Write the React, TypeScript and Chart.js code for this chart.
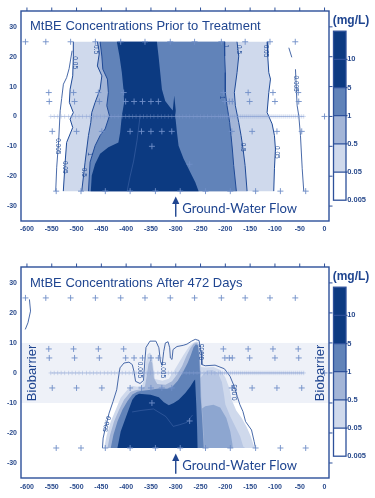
import React, { useEffect, useRef } from 'react';
import { Chart, registerables } from 'chart.js';

Chart.register(...registerables);

type Pt = [number, number];

// ---------------- axes ----------------
const xTickValues = [-600, -550, -500, -450, -400, -350, -300, -250, -200, -150, -100, -50, 0];
const yTickValues = [-30, -20, -10, 0, 10, 20, 30];
const xRange: Pt = [-612, 9];
const yRange: Pt = [-35, 35.3];

// ---------------- legend / texts ----------------
const colorbarLevels = ['10', '5', '1', '0.5', '0.05', '0.005'];
const unitLabel = '(mg/L)';
const titlePrior = 'MtBE Concentrations Prior to Treatment';
const titleAfter = 'MtBE Concentrations After 472 Days';
const flowLabel = 'Ground-Water Flow';
const barrierLabel = 'Biobarrier';

// annotation anchors (data units)
const flowArrowX = -300;
const flowArrowY: Pt = [-33.6, -26.8];
const flowTextAt: Pt = [-287, -32.3];
const barrierY: Pt = [-10, 10];
const barrierLabelX = [-582, -2];
const plumeBase = -25;
const plumeTop = 25;

// ---------------- monitoring wells ----------------
const wellsRow25X = [-603, -562, -512, -462, -411, -362, -311, -262, -208, -160, -110, -59];
const wellsRowM25X = [-541, -491, -442, -392, -341, -291, -240, -190, -139, -89, -38];
const wellsRow8X = [-556, -506, -456, -405, -204, -154, -104, -53];
const wellsRow5X = [-555, -504, -454, -401, -384, -367, -350, -335, -201, -192, -186, -151, -100, -52];
const wellsRowM5X = [-549, -500, -449, -392, -369, -350, -328, -308, -187, -146, -96, -46];
const wellsOtherX = [-348, -272, 0];
const wellsOtherY = [-10, -16, 0];
const transectX = [
  -552, -545, -538, -531, -524, -516, -509, -502, -495, -488, -480, -473, -466, -459, -452, -444,
  -437, -430, -423, -416, -408, -401, -394, -387, -380, -372, -365, -358, -351, -344, -336, -329,
  -322, -315, -308, -300, -293, -286, -279, -272, -264, -257, -250, -243, -236, -228, -221, -214,
  -210, -206, -202, -198, -194, -190, -186, -182, -178, -174, -170, -166, -162, -158, -154, -150,
  -146, -142, -138, -134, -130, -126, -122, -118, -114, -110, -106, -102, -98, -94, -90, -86,
  -82, -78, -74, -70, -66, -62, -58, -54, -50, -46, -42,
];

// ---------------- prior to treatment: contour regions ----------------
const prior005: Pt[] = [
  [-526.7, -25], [-523, -15.3], [-520, -8.7], [-507.7, -3.7], [-513, -0.9], [-506.5, 1.3], [-514.5, 4.7],
  [-513, 9.1], [-507.7, 13.6], [-506.5, 20.2], [-506.5, 25],
  [-115.8, 25], [-114.5, 20.2], [-112.4, 14.7], [-109, 12.5], [-112.4, 8], [-115.8, 1.3], [-105.7, -2.5],
  [-101, -6.4], [-99, -10.9], [-101, -17.5], [-102.4, -25],
];
const prior05: Pt[] = [
  [-489.5, -25], [-482.8, -15.3], [-476, -6.4], [-471.3, -2], [-469.3, 1.3], [-462.6, 4.7], [-452.5, 9.1],
  [-449, 13.6], [-458, 16.9], [-454, 21.3], [-458, 25],
  [-176.4, 25], [-173, 20.2], [-176.4, 14.7], [-181.8, 8], [-179.8, 3.6], [-173, -2], [-168.3, -6.4],
  [-164.3, -10.9], [-160.2, -16.4], [-156.2, -25],
];
const prior1: Pt[] = [
  [-476, -25], [-472.7, -15.3], [-462.6, -9.8], [-452.5, -6.4], [-442.4, -4.2], [-433.7, 0.2], [-439, 3.6],
  [-435.8, 8], [-437.8, 12.5], [-447, 15.8], [-449, 20.2], [-452.5, 25],
  [-202, 25], [-201.4, 20.2], [-200, 14.7], [-200, 8], [-196.6, 3.6], [-191.3, -2], [-188.5, -6.4],
  [-185.9, -10.9], [-183.2, -16.4], [-177.8, -25],
];
const prior5: Pt[] = [
  [-471.3, -25], [-469.3, -19.8], [-462.6, -15.9], [-452.5, -12.5], [-435.8, -10.3], [-415.6, -8.7],
  [-412, -5.3], [-408.7, 0.2], [-404, 4.7], [-405.4, 9.1], [-408.7, 14.7], [-413.5, 20.2], [-418.8, 25],
  [-338, 25], [-334.7, 20.2], [-331.3, 14.7], [-327.9, 9.1], [-321.2, 5.2], [-311.1, 3], [-306, 2],
  [-303, 7], [-300, 2], [-301, 0.2], [-297.6, -5.3], [-294.3, -9.8], [-284.2, -14.2], [-270.7, -18.7],
  [-260.6, -22], [-253.9, -25],
];
const prior0005Left: Pt[] = [[-509, 22], [-515, 16], [-520, 13], [-526.5, 10.8], [-530, 6], [-533, 1.9], [-536, -8], [-540, -17], [-542, -25]];
const prior0005Right: Pt[] = [[-58.6, 15.8], [-56.6, 8], [-55.2, 3.6], [-51.9, 0.2], [-48.5, -6.4], [-45, -17.5], [-41.9, -25]];
const prior0005Stub: Pt[] = [[-72, 23], [-66, 19.8]];
const prior10: Pt[] = [[-372, 0], [-378, -8], [-385, -15], [-392, -20], [-398, -25]];

// ---------------- after 472 days: contour regions ----------------
const after005: Pt[] = [
  [-444.4, -25], [-439, -20.6], [-431, -16.2], [-421, -12.3], [-411, -8.3], [-397.5, -5.6], [-388, -4.3],
  [-378, -4.6], [-368, -4.2], [-363.5, -2], [-361, 2.5], [-357, 6.2], [-352, 6.8], [-347.5, 5.5], [-345, 2],
  [-342, -2], [-327, -2.6], [-314, -1.9], [-304, 0.6], [-294, 3.3], [-284, 6.1], [-274, 8.6], [-265.3, 10],
  [-259, 10.5], [-254, 10.2], [-251.3, 6], [-249, 2], [-240, 1.8], [-224, 2], [-210, 1], [-200, -1.5],
  [-192, -5], [-187, -9], [-178, -12.5], [-167, -15], [-157, -18], [-149, -21], [-142, -24.5], [-140.3, -25],
];
const afterLobe05: Pt[] = [
  [-255, -25], [-252, -2], [-238, 0.8], [-226, 1], [-215, 0], [-207, -3], [-203, -7], [-200, -10.5],
  [-190, -14.5], [-180, -17.8], [-170, -21.2], [-164, -24.5], [-160, -25],
];
const afterLobe1: Pt[] = [
  [-252, -25], [-250.5, -12.3], [-240.5, -11.1], [-224, -10.6], [-210.4, -11.5], [-198, -15], [-190, -19.5],
  [-186, -23.4], [-185, -25],
];
const after05: Pt[] = [
  [-437.6, -25], [-432.3, -20.6], [-424.4, -16.2], [-414.3, -12.3], [-404.3, -8.9], [-391, -6.3], [-381, -5.8],
  [-370, -5.4], [-362, -4.4], [-358.5, -1], [-355, 3], [-351, 4.5], [-347.5, 3.3], [-344, -1.7], [-337.4, -3.7],
  [-320.7, -3.9], [-307.4, -2.8], [-297.4, -0.5], [-287.3, 2.2], [-278.7, 5.6], [-270.6, 8.2], [-264, 9.7],
  [-258, 10.1], [-253.8, 9.6], [-251.5, 5], [-250, 0], [-248.5, -8], [-245.5, -15], [-242, -25],
];
const after1: Pt[] = [
  [-431, -25], [-425.6, -20.6], [-417.5, -16.2], [-407.5, -12.3], [-397.5, -9.4], [-387.5, -7.2], [-377.5, -6.3],
  [-370.8, -6], [-350.8, -5.6], [-334, -5.2], [-317.4, -5.3], [-307.4, -4.7], [-296, -2.6], [-285.3, 0.3],
  [-276, 3.3], [-269.3, 6.1], [-264, 8.6], [-259.3, 9.6], [-255.5, 9.2], [-253, 6], [-251.2, 0], [-249.8, -8],
  [-246.8, -15], [-243.5, -25],
];
const after5: Pt[] = [
  [-417.6, -25], [-411, -19.5], [-397.6, -13.4], [-387.5, -8.9], [-380.9, -7.5], [-374, -6.9], [-350.8, -7.3],
  [-334.1, -8.1], [-324, -9.8], [-314, -10.8], [-304, -10], [-294, -8.9], [-280.7, -6.7], [-270.6, -4.5],
  [-264, -2.8], [-261, -2.2], [-258.6, -10.6], [-257, -18], [-256, -25],
];
const after0005: Pt[] = [
  [-447.8, -25], [-446.4, -21.7], [-441.1, -17.8], [-434.4, -13.4], [-426.4, -9.5], [-419, -5.6], [-415.7, -1.7],
  [-412.4, 1.7], [-404.4, 3.3], [-394.3, 3.6], [-387.7, 2.8], [-384.3, 0.6], [-381, -2.8], [-372, -3.5],
  [-365, -2.5], [-362.3, 4], [-360, 8.5], [-352, 10.6], [-340, 10.6], [-334, 8.4], [-331, 3.9], [-327.5, 2.5],
  [-324.2, 7.2], [-320.9, 10], [-315.5, 10.4], [-312.2, 8.4], [-310.8, 5], [-307.5, 4.5], [-305.5, 7.8],
  [-297.5, 8.8], [-285, 9.2], [-277.4, 9.6], [-268, 10.6], [-260.7, 11.2], [-253, 10.8], [-249, 7],
  [-247.4, 2.8], [-240.7, 2.4], [-220.7, 2.6], [-202, 1.4], [-190.6, -1.1], [-182, -4.5], [-176, -7.8],
  [-170.6, -10.6], [-164.6, -12.8], [-159.2, -16.2], [-147.2, -19], [-141.8, -22.9], [-139.2, -25],
];
const after0005Corner: Pt[] = [[-595, 24.5], [-592.8, 20.6], [-598, 16.7], [-603.4, 14.5]];
const after10: Pt[] = [[-388, -13], [-370, -12.5], [-345, -12], [-320, -14.5], [-305, -17.8], [-293, -17.3], [-278, -16.5], [-266, -14]];

type Label = { t: string; x: number; y: number; r: number };
const priorLabels: Label[] = [
  { t: '0.05', x: -503, y: 18, r: 90 },
  { t: '0.5', x: -461, y: 22.4, r: 90 },
  { t: '0.005', x: -537, y: -10, r: 90 },
  { t: '0.05', x: -523, y: -17, r: 90 },
  { t: '0.5', x: -486, y: -18.7, r: 90 },
  { t: '1', x: -474, y: -12.6, r: 90 },
  { t: '1', x: -200, y: 23.6, r: 90 },
  { t: '0.5', x: -172, y: 22.4, r: 90 },
  { t: '0.05', x: -118, y: 21.9, r: 90 },
  { t: '0.005', x: -58, y: 11, r: 90 },
  { t: '0.5', x: -164, y: -10.3, r: 90 },
  { t: '0.05', x: -97, y: -12, r: 90 },
  { t: '1', x: -208, y: 6.3, r: 90 },
];
const afterLabels: Label[] = [
  { t: '0.005', x: -373, y: 1, r: 90 },
  { t: '0.005', x: -326, y: 1, r: 90 },
  { t: '0.005', x: -246, y: 7, r: -90 },
  { t: '0.005', x: -180, y: -6.5, r: -90 },
  { t: '0.005', x: -440, y: -17, r: 105 },
];

// ---------------- styles ----------------
const COL = {
  light: '#cfd9ec',
  mid: '#a3b5d7',
  med: '#6183b9',
  dark: '#0c3a81',
  lobeMid: '#b7c6e3',
  lobeIn: '#8da6d0',
  line: '#1f4a97',
  text: '#1f4590',
  frame: '#2d509a',
  tick: '#2a4b8d',
};
const colorbarColors = [COL.dark, COL.dark, COL.med, COL.mid, COL.light, '#ffffff'];
const FONT = '"Liberation Sans", Arial, sans-serif';

interface Panel {
  title: string;
  areas: { pts: Pt[]; color: string }[];
  outlines: Pt[][];
  thin: Pt[][];
  faint: Pt[][];
  labels: Label[];
  band: boolean;
  padTop: number;
  xAxisH: number;
  tickPad: number;
  titleDy: number;
}

function sides(p: Pt[]): Pt[][] {
  const i = p.findIndex((q) => q[1] === plumeTop);
  return [p.slice(0, i + 1), p.slice(i + 1)];
}

const priorPanel: Panel = {
  title: titlePrior,
  areas: [
    { pts: prior005, color: COL.light },
    { pts: prior05, color: COL.mid },
    { pts: prior1, color: COL.med },
    { pts: prior5, color: COL.dark },
  ],
  outlines: [...sides(prior005), ...sides(prior05), ...sides(prior1)],
  thin: [prior0005Left, prior0005Right, prior0005Stub],
  faint: [prior10],
  labels: priorLabels,
  band: false,
  padTop: 11,
  xAxisH: 28,
  tickPad: 4,
  titleDy: 18.7,
};

const afterPanel: Panel = {
  title: titleAfter,
  areas: [
    { pts: after005, color: COL.light },
    { pts: afterLobe05, color: COL.lobeMid },
    { pts: afterLobe1, color: COL.lobeIn },
    { pts: after05, color: COL.mid },
    { pts: after1, color: COL.med },
    { pts: after5, color: COL.dark },
  ],
  outlines: [],
  thin: [after0005, after0005Corner],
  faint: [after10],
  labels: afterLabels,
  band: true,
  padTop: 18,
  xAxisH: 20,
  tickPad: 5,
  titleDy: 19.5,
};

function toXY(p: Pt[]) {
  return p.map(([x, y]) => ({ x, y }));
}

function closeOnBase(p: Pt[]): Pt[] {
  const xs = p.map((q) => q[0]);
  return [[Math.min(...xs), plumeBase], ...p, [Math.max(...xs), plumeBase]];
}

function wellPoints() {
  const pts: { x: number; y: number }[] = [];
  wellsRow25X.forEach((x) => pts.push({ x, y: 25 }));
  wellsRowM25X.forEach((x) => pts.push({ x, y: -25 }));
  wellsRow8X.forEach((x) => pts.push({ x, y: 8 }));
  wellsRow5X.forEach((x) => pts.push({ x, y: 5 }));
  wellsRowM5X.forEach((x) => pts.push({ x, y: -5 }));
  wellsOtherX.forEach((x, i) => pts.push({ x, y: wellsOtherY[i] }));
  return pts;
}

function makeDecor(panel: Panel) {
  return {
    id: 'decor',
    beforeDatasetsDraw(chart: any) {
      if (!panel.band) return;
      const { ctx, chartArea: a, scales } = chart;
      const yTop = scales.y.getPixelForValue(barrierY[1]);
      const yBot = scales.y.getPixelForValue(barrierY[0]);
      ctx.save();
      ctx.fillStyle = '#eef1f8';
      ctx.fillRect(a.left, yTop, a.right - a.left, yBot - yTop);
      ctx.restore();
    },
    afterDatasetsDraw(chart: any) {
      const { ctx, chartArea: a, scales } = chart;
      const X = (v: number) => scales.x.getPixelForValue(v);
      const Y = (v: number) => scales.y.getPixelForValue(v);
      ctx.save();

      // contour labels
      ctx.fillStyle = COL.line;
      ctx.font = `6.5px ${FONT}`;
      ctx.textAlign = 'center';
      ctx.textBaseline = 'middle';
      panel.labels.forEach((l) => {
        ctx.save();
        ctx.translate(X(l.x), Y(l.y));
        ctx.rotate((l.r * Math.PI) / 180);
        ctx.fillText(l.t, 0, 0);
        ctx.restore();
      });

      // frame
      ctx.strokeStyle = COL.frame;
      ctx.lineWidth = 1.4;
      ctx.strokeRect(a.left, a.top, a.right - a.left, a.bottom - a.top);
      ctx.lineWidth = 1;
      ctx.beginPath();
      scales.x.ticks.forEach((t: any) => {
        const px = X(t.value);
        ctx.moveTo(px, a.top);
        ctx.lineTo(px, a.top - 3.5);
      });
      scales.y.ticks.forEach((t: any) => {
        const py = Y(t.value);
        ctx.moveTo(a.right, py);
        ctx.lineTo(a.right + 3.5, py);
      });
      ctx.stroke();

      // title
      ctx.fillStyle = COL.text;
      ctx.textAlign = 'left';
      ctx.textBaseline = 'alphabetic';
      ctx.font = `13px ${FONT}`;
      ctx.fillText(panel.title, a.left + 9, a.top + panel.titleDy);

      // biobarrier labels
      if (panel.band) {
        ctx.textAlign = 'center';
        barrierLabelX.forEach((bx) => {
          ctx.save();
          ctx.translate(X(bx), Y(0));
          ctx.rotate(-Math.PI / 2);
          ctx.fillText(barrierLabel, 0, 0);
          ctx.restore();
        });
      }

      // flow arrow + text
      const ax = X(flowArrowX);
      const ay0 = Y(flowArrowY[0]);
      const ay1 = Y(flowArrowY[1]);
      ctx.strokeStyle = COL.text;
      ctx.lineWidth = 1.4;
      ctx.beginPath();
      ctx.moveTo(ax, ay0);
      ctx.lineTo(ax, ay1 + 5);
      ctx.stroke();
      ctx.beginPath();
      ctx.moveTo(ax, ay1);
      ctx.lineTo(ax - 3.6, ay1 + 7.5);
      ctx.lineTo(ax + 3.6, ay1 + 7.5);
      ctx.closePath();
      ctx.fill();
      ctx.textAlign = 'left';
      ctx.font = `12px Lato, "Open Sans", sans-serif`;
      const w = ctx.measureText(flowLabel).width;
      const size = Math.max(10.5, Math.min(13.5, (12 * 115) / w));
      ctx.font = `${size}px Lato, "Open Sans", sans-serif`;
      ctx.fillText(flowLabel, X(flowTextAt[0]), Y(flowTextAt[1]));

      // colorbar
      const cbX = a.right + 4.5;
      const cbW = 12.5;
      const cbTop = a.top + 20.2;
      const cbH = 169;
      const seg = cbH / colorbarLevels.length;
      colorbarColors.forEach((c, i) => {
        ctx.fillStyle = c;
        ctx.fillRect(cbX, cbTop + i * seg, cbW, seg);
      });
      ctx.strokeStyle = COL.frame;
      ctx.lineWidth = 1.2;
      ctx.beginPath();
      for (let i = 1; i < colorbarLevels.length; i++) {
        const yy = cbTop + i * seg;
        ctx.moveTo(cbX, yy);
        ctx.lineTo(cbX + cbW + 1.5, yy);
      }
      ctx.stroke();
      ctx.lineWidth = 1.3;
      ctx.strokeRect(cbX, cbTop, cbW, cbH);
      ctx.fillStyle = COL.tick;
      ctx.font = `bold 7.5px ${FONT}`;
      ctx.textBaseline = 'middle';
      colorbarLevels.forEach((lab, i) => {
        ctx.fillText(lab, cbX + cbW + 1.2, cbTop + (i + 1) * seg);
      });
      ctx.fillStyle = COL.text;
      ctx.font = `bold 12px ${FONT}`;
      ctx.textBaseline = 'alphabetic';
      ctx.fillText(unitLabel, cbX - 0.8, a.top + 12.5);

      ctx.restore();
    },
  };
}

function buildConfig(panel: Panel): any {
  const datasets: any[] = [];
  datasets.push({
    data: wellPoints(),
    showLine: false,
    pointStyle: 'cross',
    pointRadius: 3,
    pointBorderWidth: 1,
    pointBorderColor: 'rgba(112,142,200,0.9)',
    order: 0,
  });
  datasets.push({
    data: transectX.map((x) => ({ x, y: 0 })),
    showLine: true,
    borderColor: 'rgba(160,180,220,0.35)',
    borderWidth: 1,
    pointStyle: 'cross',
    pointRadius: 2.2,
    pointBorderWidth: 0.7,
    pointBorderColor: 'rgba(130,156,208,0.5)',
    order: 1,
  });
  panel.outlines.forEach((p) =>
    datasets.push({ data: toXY(p), showLine: true, borderColor: COL.line, borderWidth: 1, pointRadius: 0, order: 2 })
  );
  panel.thin.forEach((p) =>
    datasets.push({ data: toXY(p), showLine: true, borderColor: '#34599f', borderWidth: 0.9, pointRadius: 0, order: 2 })
  );
  panel.faint.forEach((p) =>
    datasets.push({ data: toXY(p), showLine: true, borderColor: 'rgba(110,140,200,0.4)', borderWidth: 0.8, pointRadius: 0, order: 3 })
  );
  panel.areas.forEach((ar, i) =>
    datasets.push({
      data: toXY(closeOnBase(ar.pts)),
      showLine: true,
      fill: 'shape',
      backgroundColor: ar.color,
      borderWidth: 0,
      borderColor: 'rgba(0,0,0,0)',
      pointRadius: 0,
      tension: 0,
      order: 100 - i,
    })
  );

  const tickFont = { family: FONT, size: 7, weight: 'bold' as const };
  return {
    type: 'line',
    data: { datasets },
    options: {
      responsive: false,
      animation: false,
      devicePixelRatio: 1,
      events: [],
      layout: { padding: { left: 0, right: 46, top: panel.padTop, bottom: 0 } },
      plugins: { legend: { display: false }, tooltip: { enabled: false } },
      elements: { line: { tension: 0 } },
      scales: {
        x: {
          type: 'linear',
          min: xRange[0],
          max: xRange[1],
          afterBuildTicks: (s: any) => {
            s.ticks = xTickValues.map((v) => ({ value: v }));
          },
          afterFit: (s: any) => {
            s.height = panel.xAxisH;
          },
          grid: { display: false, drawTicks: false },
          border: { display: false },
          ticks: {
            autoSkip: false,
            maxRotation: 0,
            padding: panel.tickPad,
            font: tickFont,
            color: COL.tick,
            callback: (v: any) => String(v),
          },
        },
        y: {
          type: 'linear',
          min: yRange[0],
          max: yRange[1],
          afterBuildTicks: (s: any) => {
            s.ticks = yTickValues.map((v) => ({ value: v }));
          },
          afterFit: (s: any) => {
            s.width = 21;
          },
          grid: { display: false, drawTicks: false },
          border: { display: false },
          ticks: {
            padding: 4,
            font: tickFont,
            color: COL.tick,
            callback: (v: any) => String(v),
          },
        },
      },
    },
    plugins: [makeDecor(panel)],
  };
}

function PanelChart({ panel }: { panel: Panel }) {
  const ref = useRef<HTMLCanvasElement>(null);
  useEffect(() => {
    const chart = new Chart(ref.current as HTMLCanvasElement, buildConfig(panel));
    return () => chart.destroy();
  }, [panel]);
  return <canvas ref={ref} width={375} height={249} style={{ display: 'block', width: 375, height: 249 }} />;
}

export default function App() {
  return (
    <div style={{ position: 'fixed', left: 0, top: 0, width: 375, height: 498, background: '#ffffff' }}>
      <PanelChart panel={priorPanel} />
      <PanelChart panel={afterPanel} />
    </div>
  );
}
